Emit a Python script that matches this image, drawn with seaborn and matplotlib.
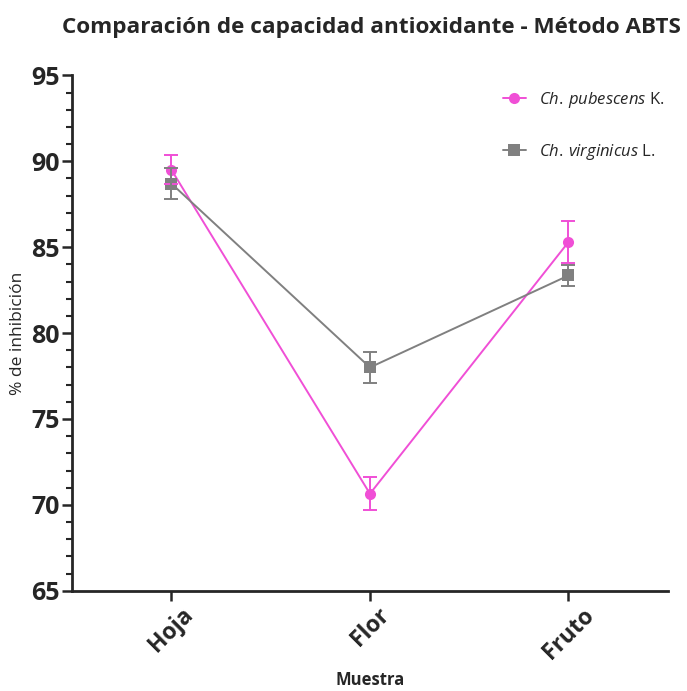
import pandas as pd
import numpy as np
import matplotlib
matplotlib.use('Agg')
import matplotlib.pyplot as plt
from matplotlib.ticker import MultipleLocator
from matplotlib.lines import Line2D
import seaborn as sns

# Data
muestras = ['Hoja', 'Flor', 'Fruto']
especies = ['Ch. pubescens K.', 'Ch. virginicus L.']
pubescens_media = [89.5, 70.65, 85.3]
pubescens_err = [0.85, 0.95, 1.25]
virginicus_media = [88.7, 78.0, 83.35]
virginicus_err = [0.9, 0.9, 0.6]

colores = {especies[0]: '#F04FD6', especies[1]: '#808080'}
marcadores = {especies[0]: 'o', especies[1]: 's'}

df = pd.DataFrame({
    'muestra': muestras * 2,
    'especie': [especies[0]] * 3 + [especies[1]] * 3,
    'inhibicion': pubescens_media + virginicus_media,
    'error': pubescens_err + virginicus_err,
})

sns.set_style('ticks')
plt.rcParams['font.family'] = ['Open Sans', 'DejaVu Sans']
plt.rcParams['mathtext.fontset'] = 'custom'
plt.rcParams['mathtext.rm'] = 'Open Sans'
plt.rcParams['mathtext.it'] = 'Open Sans:italic'

fig = plt.figure(figsize=(6.87, 6.91), dpi=100)
ax = fig.add_axes([0.105, 0.145, 0.867, 0.746])

sns.lineplot(data=df, x='muestra', y='inhibicion', hue='especie', style='especie',
             palette=colores, markers=marcadores, dashes=False, errorbar=None,
             markersize=8, linewidth=1.4, markeredgewidth=0, ax=ax, legend=False)

# error bars
for esp in especies:
    sub = df[df['especie'] == esp]
    ax.errorbar(np.arange(len(muestras)), sub['inhibicion'], yerr=sub['error'],
                fmt='none', ecolor=colores[esp], elinewidth=1.4, capsize=5, capthick=1.4)

ax.set_xlim(-0.5, 2.5)
ax.set_ylim(65, 95)
ax.yaxis.set_major_locator(MultipleLocator(5))
ax.yaxis.set_minor_locator(MultipleLocator(1))
ax.set_xticks(range(len(muestras)))
ax.set_xticklabels(muestras, rotation=45, fontsize=16.5, fontweight='bold')
for lab in ax.get_yticklabels():
    lab.set_fontsize(18)
    lab.set_fontweight('bold')
ax.tick_params(axis='both', which='major', width=1.8, length=7, pad=2)
ax.tick_params(axis='y', which='minor', width=1.5, length=4)
for s in ['left', 'bottom']:
    ax.spines[s].set_linewidth(2)
sns.despine(ax=ax)

ax.set_xlabel('Muestra', fontsize=12, fontweight='bold')
ax.xaxis.set_label_coords(0.5, -0.155)
ax.set_ylabel('% de inhibición', fontsize=12.5)
ax.yaxis.set_label_coords(-0.077, 0.5)
fig.suptitle('Comparación de capacidad antioxidante - Método ABTS',
             fontsize=16.2, fontweight='bold', y=0.975, x=0.54)

# legend
handles = [Line2D([], [], color=colores[e], marker=marcadores[e], markersize=8,
                  markeredgewidth=0, linewidth=1.4) for e in especies]
labels = [r'$\mathit{Ch.\,pubescens}$ K.', r'$\mathit{Ch.\,virginicus}$ L.']
ax.legend(handles, labels, loc='upper right', frameon=False, fontsize=12,
          handlelength=1.4, handletextpad=0.8, labelspacing=1.9,
          bbox_to_anchor=(1.02, 1.0))

fig.savefig('out.png', dpi=100)
